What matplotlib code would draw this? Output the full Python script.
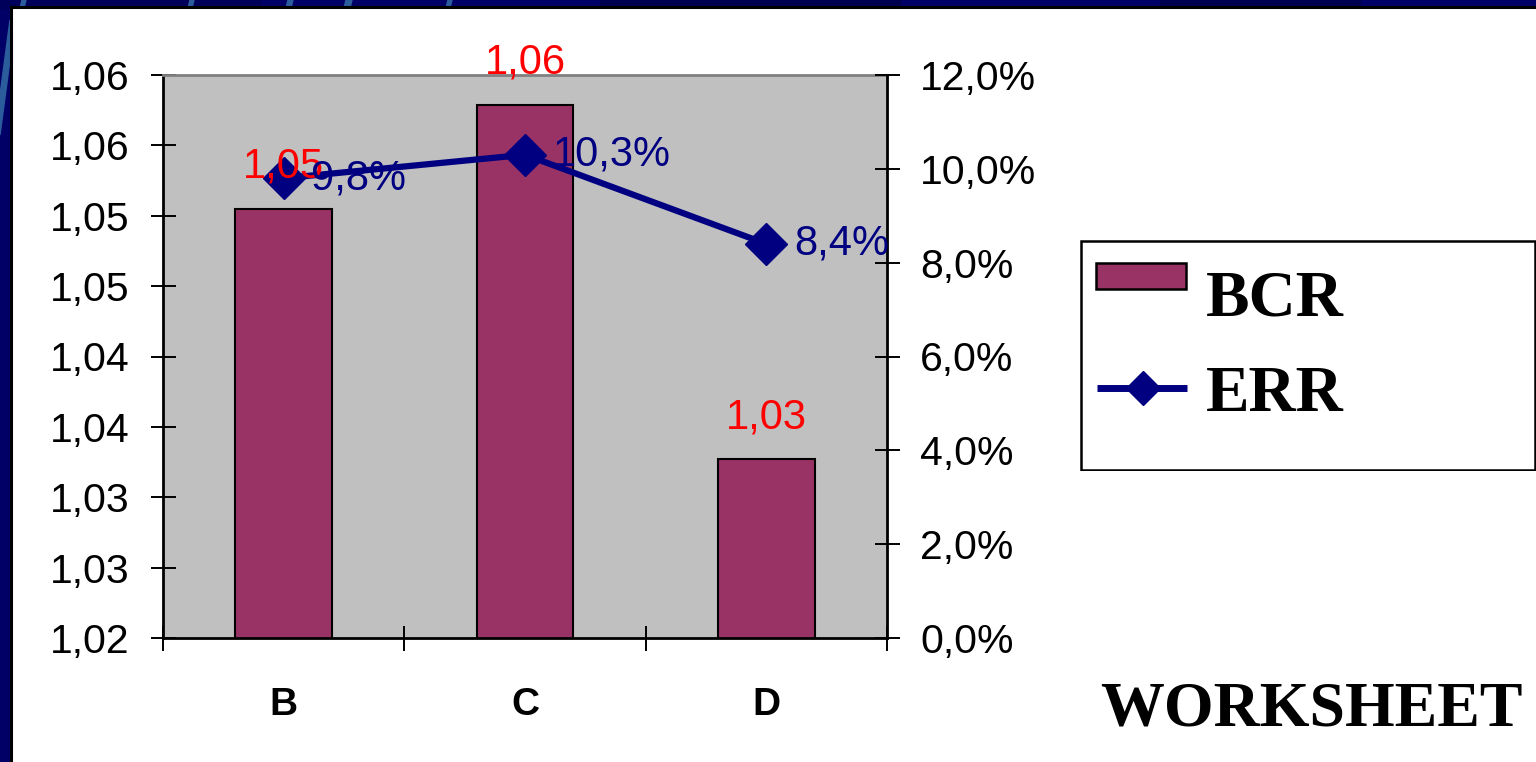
import matplotlib
matplotlib.use("Agg")
import matplotlib.pyplot as plt
from matplotlib.patches import Rectangle, Polygon
from matplotlib.lines import Line2D
import numpy as np

# ---- data -------------------------------------------------------------
categories = ["B", "C", "D"]
bcr_values = [1.0505, 1.0579, 1.0327]
bcr_labels = ["1,05", "1,06", "1,03"]
err_values = [0.098, 0.103, 0.084]
err_labels = ["9,8%", "10,3%", "8,4%"]
bcr_ticks = [1.020, 1.025, 1.030, 1.035, 1.040, 1.045, 1.050, 1.055, 1.060]
bcr_tick_labels = ["1,02", "1,03", "1,03", "1,04", "1,04", "1,05", "1,05", "1,06", "1,06"]
err_ticks = [0.0, 0.02, 0.04, 0.06, 0.08, 0.10, 0.12]
err_tick_labels = ["0,0%", "2,0%", "4,0%", "6,0%", "8,0%", "10,0%", "12,0%"]

# ---- styling ----------------------------------------------------------
SANS = "Liberation Sans"
SERIF = "Liberation Serif"
BAR_COLOR = "#993366"
LINE_COLOR = "#000080"
PLOT_BG = "#C0C0C0"
NAVY = "#000066"
STRIPE = "#2B5C9C"

W, H = 1536, 762
fig = plt.figure(figsize=(W / 100, H / 100), dpi=100, facecolor=NAVY)

# slide background: navy frame with light arcs peeking through
bg = fig.add_axes([0, 0, 1, 1], zorder=-10)
bg.set_xlim(0, W)
bg.set_ylim(H, 0)
bg.axis("off")
bg.add_patch(Rectangle((0, 0), W, H, color=NAVY))
bg.add_patch(Rectangle((0, 0), 260, 8, color="#00005A"))
bg.add_patch(Rectangle((600, 0), 300, 8, color="#000050"))
bg.add_patch(Rectangle((1160, 0), 200, 8, color="#000050"))
for x0, x1 in [(20, 24), (188, 192), (286, 291), (344, 350), (446, 450)]:
    bg.add_patch(Polygon([(x0 + 2, 0), (x1 + 2, 0), (x1, 8), (x0, 8)], color=STRIPE))
bg.add_patch(Polygon([(10, 20), (10, 60), (0, 135), (0, 95)], color=STRIPE))
# white panel with dark outline
bg.add_patch(Rectangle((11, 7), W - 11 + 5, H - 7 + 5, facecolor="white",
                       edgecolor="black", linewidth=2.2))

# ---- main axes --------------------------------------------------------
ax = fig.add_axes([163 / W, 1 - 638 / H, (887 - 163) / W, (638 - 75) / H])
ax.set_facecolor(PLOT_BG)
x = np.arange(len(categories)) + 0.5
bars = ax.bar(x, bcr_values, width=0.4, color=BAR_COLOR, edgecolor="black",
              linewidth=1.5, zorder=2)
ax.set_xlim(0, 3)
ax.set_ylim(1.02, 1.06)
ax.set_yticks(bcr_ticks)
ax.set_yticklabels(bcr_tick_labels, fontfamily=SANS, fontsize=29.5)
ax.tick_params(axis="y", direction="inout", length=18, width=1.4, pad=15)

ax.set_xticks([0, 1, 2, 3])
ax.set_xticklabels([])
ax.set_xticks(x, minor=True)
ax.set_xticklabels(categories, minor=True, fontfamily=SANS, fontsize=28,
                   fontweight="bold")
ax.tick_params(axis="x", which="major", direction="inout", length=18, width=1.4)
ax.tick_params(axis="x", which="minor", length=0, pad=35)

for side in ["left", "bottom"]:
    ax.spines[side].set_linewidth(2)
    ax.spines[side].set_color("black")
ax.spines["top"].set_color("#808080")
ax.spines["top"].set_linewidth(2)
ax.spines["right"].set_visible(False)

# ---- secondary axis with ERR line --------------------------------------
ax2 = ax.twinx()
ax2.set_ylim(0, 0.12)
ax2.set_yticks(err_ticks)
ax2.set_yticklabels(err_tick_labels, fontfamily=SANS, fontsize=29.5)
ax2.tick_params(axis="y", direction="inout", length=18, width=1.4, pad=15)
ax2.spines["right"].set_linewidth(2)
ax2.spines["left"].set_visible(False)
ax2.spines["bottom"].set_visible(False)
ax2.spines["top"].set_visible(False)

ax2.plot(x, err_values, color=LINE_COLOR, linewidth=4.5, marker="D",
         markersize=21, markerfacecolor=LINE_COLOR, markeredgecolor=LINE_COLOR,
         zorder=3, clip_on=False)

# bar value labels (red) above each bar
for xi, v, lab in zip(x, bcr_values, bcr_labels):
    y2 = (v - 1.02) / 0.04 * 0.12
    ax2.annotate(lab, (xi, y2), xytext=(0, 16), textcoords="offset points",
                 ha="center", va="bottom", color="red", fontfamily=SANS,
                 fontsize=30, zorder=4)

# ERR value labels (navy) right of each marker
for xi, v, lab in zip(x, err_values, err_labels):
    ax2.annotate(lab, (xi, v), xytext=(20, 0), textcoords="offset points",
                 ha="left", va="center", color=LINE_COLOR, fontfamily=SANS,
                 fontsize=30, zorder=5, annotation_clip=False)

# ---- legend box --------------------------------------------------------
lg = fig.add_axes([1080 / W, 1 - 471 / H, (W - 1080) / W, (471 - 240) / H])
lg.set_xlim(1080, W)
lg.set_ylim(471, 240)
lg.axis("off")
lg.add_patch(Rectangle((1081, 241), W - 1081 - 1.5, 229, facecolor="white",
                       edgecolor="black", linewidth=1.8))
lg.add_patch(Rectangle((1096, 263), 90, 26, facecolor=BAR_COLOR,
                       edgecolor="black", linewidth=1.8))
lg.add_line(Line2D([1097, 1187], [388, 388], color=LINE_COLOR, linewidth=5,
                   solid_capstyle="butt"))
lg.plot([1143], [388], marker="D", markersize=17, color=LINE_COLOR,
        linestyle="none")
lg.text(1206, 300, "BCR", fontfamily=SERIF, fontweight="bold", fontsize=47,
        va="center", ha="left")
lg.text(1206, 395, "ERR", fontfamily=SERIF, fontweight="bold", fontsize=47,
        va="center", ha="left")

# ---- worksheet caption -------------------------------------------------
fig.text(1311 / W, 1 - 710 / H, "WORKSHEET", fontfamily=SERIF,
         fontweight="bold", fontsize=46, ha="center", va="center")

fig.savefig("out.png", dpi=100, facecolor=NAVY)
